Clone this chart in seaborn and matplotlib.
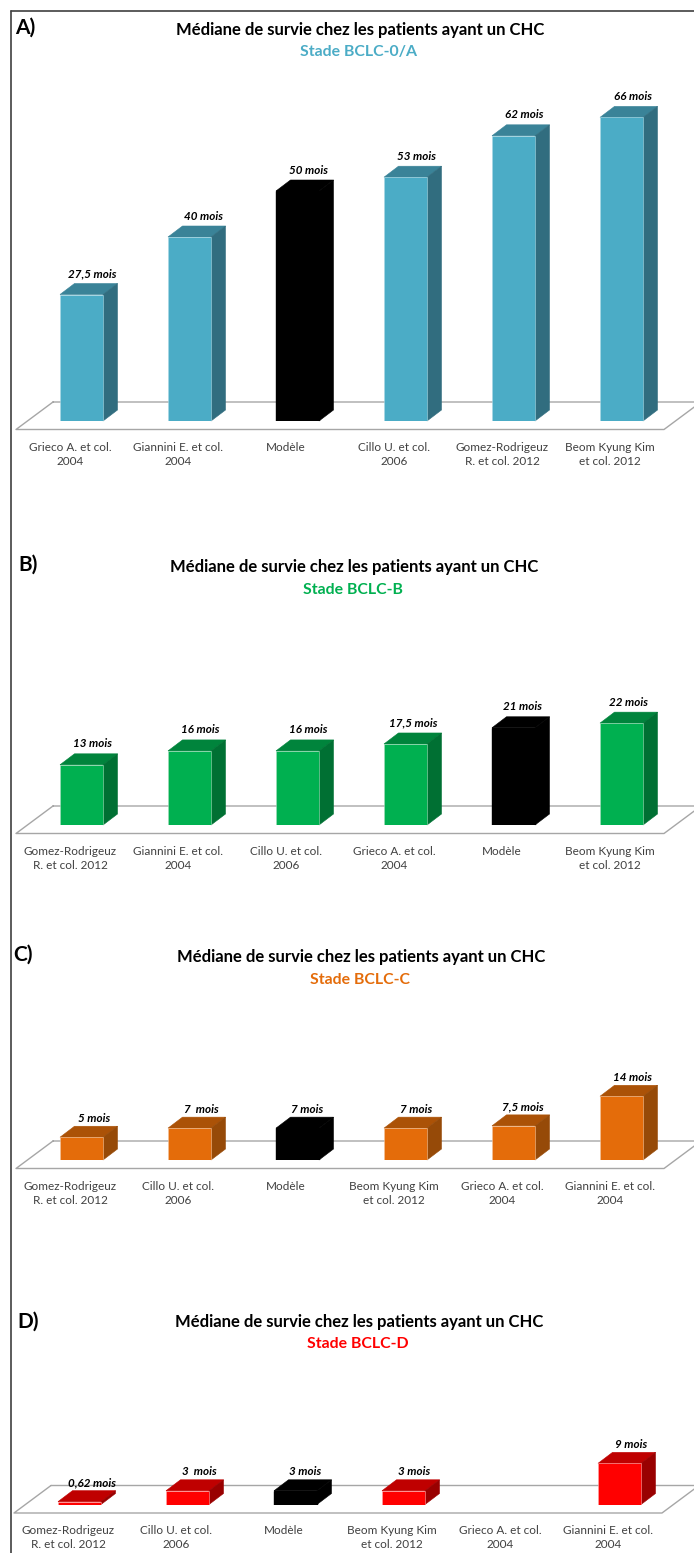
# Mediane de survie CHC - 4 panneaux de barres "3D"
import numpy as np
import pandas as pd
import seaborn as sns
import matplotlib.pyplot as plt
from matplotlib.lines import Line2D

# 1. Donnees
etudes_a = ["Grieco A. et col.\n2004", "Giannini E. et col.\n2004", "Modèle",
            "Cillo U. et col.\n2006", "Gomez-Rodrigeuz\nR. et col. 2012", "Beom Kyung Kim\net col. 2012"]
mois_a = [27.5, 40, 50, 53, 62, 66]
textes_a = ["27,5 mois", "40 mois", "50 mois", "53 mois", "62 mois", "66 mois"]

etudes_b = ["Gomez-Rodrigeuz\nR. et col. 2012", "Giannini E. et col.\n2004", "Cillo U. et col.\n2006",
            "Grieco A. et col.\n2004", "Modèle", "Beom Kyung Kim\net col. 2012"]
mois_b = [13, 16, 16, 17.5, 21, 22]
textes_b = ["13 mois", "16 mois", "16 mois", "17,5 mois", "21 mois", "22 mois"]

etudes_c = ["Gomez-Rodrigeuz\nR. et col. 2012", "Cillo U. et col.\n2006", "Modèle",
            "Beom Kyung Kim\net col. 2012", "Grieco A. et col.\n2004", "Giannini E. et col.\n2004"]
mois_c = [5, 7, 7, 7, 7.5, 14]
textes_c = ["5 mois", "7  mois", "7 mois", "7 mois", "7,5 mois", "14 mois"]

etudes_d = ["Gomez-Rodrigeuz\nR. et col. 2012", "Cillo U. et col.\n2006", "Modèle",
            "Beom Kyung Kim\net col. 2012", "Grieco A. et col.\n2004", "Giannini E. et col.\n2004"]
mois_d = [0.62, 3, 3, 3, np.nan, 9]
textes_d = ["0,62 mois", "3  mois", "3 mois", "3 mois", "", "9 mois"]

titre = "Médiane de survie chez les patients ayant un CHC"

# 2. Reglages
W, H = 694, 1553
sns.set_style("white")
plt.rcParams["font.family"] = ["Lato", "DejaVu Sans"]

# lettre, stade, couleurs (face, dessus, cote), sol gauche, base, px par mois, decalage du texte
panneaux = [
    dict(lettre="A)", lx=15, ly=28, stade="Stade BCLC-0/A", tx=360, ty=30, sy=52,
         etudes=etudes_a, mois=mois_a, textes=textes_a,
         face="#4BACC6", dessus="#3A8398", cote="#316D7F", bord="#A9D8E4",
         gauche=16, base=421, echelle=4.6, nudge=[10.5, 14.5, 11.5, 11, 11, 11.5], dy_txt=10),
    dict(lettre="B)", lx=18, ly=565, stade="Stade BCLC-B", tx=354, ty=567, sy=590,
         etudes=etudes_b, mois=mois_b, textes=textes_b,
         face="#00B050", dessus="#00843C", cote="#007033", bord="#A5DDBB",
         gauche=16, base=825, echelle=4.63, nudge=[11, 10.5, 10.5, 7.5, 9.5, 7.5], dy_txt=10),
    dict(lettre="C)", lx=13, ly=955, stade="Stade BCLC-C", tx=361, ty=957, sy=980,
         etudes=etudes_c, mois=mois_c, textes=textes_c,
         face="#E46C0A", dessus="#AB5207", cote="#964A08", bord="#F3C49C",
         gauche=16, base=1160, echelle=4.55, nudge=[12.5, 11.5, 10, 10.5, 9.5, 11.5], dy_txt=8),
    dict(lettre="D)", lx=17, ly=1322, stade="Stade BCLC-D", tx=359, ty=1322, sy=1344,
         etudes=etudes_d, mois=mois_d, textes=textes_d,
         face="#FF0000", dessus="#BF0000", cote="#990000", bord="#FFA9A9",
         gauche=14, base=1504.5, echelle=4.57, nudge=[13, 11.5, 10, 10.5, 0, 11.5], dy_txt=8),
]

PAS = 108       # px par categorie
LARGEUR = 43    # largeur de la face
PROF_X = 14.5   # profondeur de la barre
PROF_Y = 11
SHIFT = 11.5    # face decalee par rapport au centre de categorie


def dessine_panneau(fig, p):
    ax = fig.add_axes([p["gauche"] / W, 1 - p["base"] / H, 6 * PAS / W, 350 / H])
    ax.patch.set_alpha(0)
    df = pd.DataFrame({"etude": p["etudes"], "mois": p["mois"]})
    couleurs = {e: ("black" if e == "Modèle" else p["face"]) for e in p["etudes"]}
    sns.barplot(data=df, x="etude", y="mois", hue="etude", order=p["etudes"], hue_order=p["etudes"],
                palette=couleurs, width=LARGEUR / PAS, legend=False, errorbar=None, saturation=1, ax=ax)
    ax.set_xlim(-0.5, 5.5)
    ax.set_ylim(0, 350 / p["echelle"])
    ax.set_xlabel("")
    ax.set_ylabel("")
    ax.set_yticks([])
    sns.despine(ax=ax, left=True, bottom=True)
    ax.tick_params(axis="x", length=0, pad=15, labelsize=8.5, labelcolor="#404040")
    for t in ax.get_xticklabels():
        t.set_linespacing(1.35)

    dx = PROF_X / PAS
    dy = PROF_Y / p["echelle"]

    # sol du graphique
    avant = -8.5 / p["echelle"]
    arriere = 19 / p["echelle"]
    sol_x = [-0.5 + 37 / PAS, -0.5, 5.5, 5.5 + 37 / PAS, -0.5 + 37 / PAS]
    sol_y = [arriere, avant, avant, arriere, arriere]
    ax.plot(sol_x, sol_y, color="#A6A6A6", lw=1.0, clip_on=False, zorder=0.5)

    # faces de dessus et de cote a partir des barres
    for bar in ax.patches:
        h = bar.get_height()
        if np.isnan(h):
            continue
        i = int(round(bar.get_x() + bar.get_width() / 2))
        noir = p["etudes"][i] == "Modèle"
        bar.set_x(bar.get_x() + SHIFT / PAS)
        bar.set_edgecolor("black" if noir else p["bord"])
        bar.set_linewidth(1.0 if noir else 0.4)
        bar.set_zorder(3)
        x0, x1 = bar.get_x(), bar.get_x() + bar.get_width()
        ax.fill([x0, x0 + dx, x1 + dx, x1], [h, h + dy, h + dy, h],
                color="black" if noir else p["dessus"], lw=0.4, clip_on=False, zorder=2)
        ax.fill([x1, x1 + dx, x1 + dx, x1], [0, dy, h + dy, h],
                color="black" if noir else p["cote"], lw=0.4, clip_on=False, zorder=2)
        ax.text((x0 + x1) / 2 + p["nudge"][i] / PAS, h + dy + p["dy_txt"] / p["echelle"], p["textes"][i],
                ha="center", va="center", fontsize=8.4, fontweight="bold", fontstyle="italic",
                color="black", clip_on=False, zorder=4)

    # titres
    fig.text(p["tx"] / W, 1 - p["ty"] / H, titre, ha="center", va="center",
             fontsize=12, fontweight="bold", color="black")
    fig.text((p["tx"] - 1) / W, 1 - p["sy"] / H, p["stade"], ha="center", va="center",
             fontsize=11.4, fontweight="bold", color=p["face"])
    fig.text(p["lx"] / W, 1 - p["ly"] / H, p["lettre"], ha="left", va="center",
             fontsize=15, fontweight="bold", color="black")


# 3. Figure
fig = plt.figure(figsize=(W / 100, H / 100), dpi=100, facecolor="white")
for p in panneaux:
    dessine_panneau(fig, p)

# cadre haut et gauche
fig.add_artist(Line2D([10.5 / W, 1], [1 - 10.5 / H, 1 - 10.5 / H], color="#404040", lw=1.2))
fig.add_artist(Line2D([10.5 / W, 10.5 / W], [0, 1 - 10.5 / H], color="#404040", lw=1.2))

fig.savefig("out.png", dpi=100)
